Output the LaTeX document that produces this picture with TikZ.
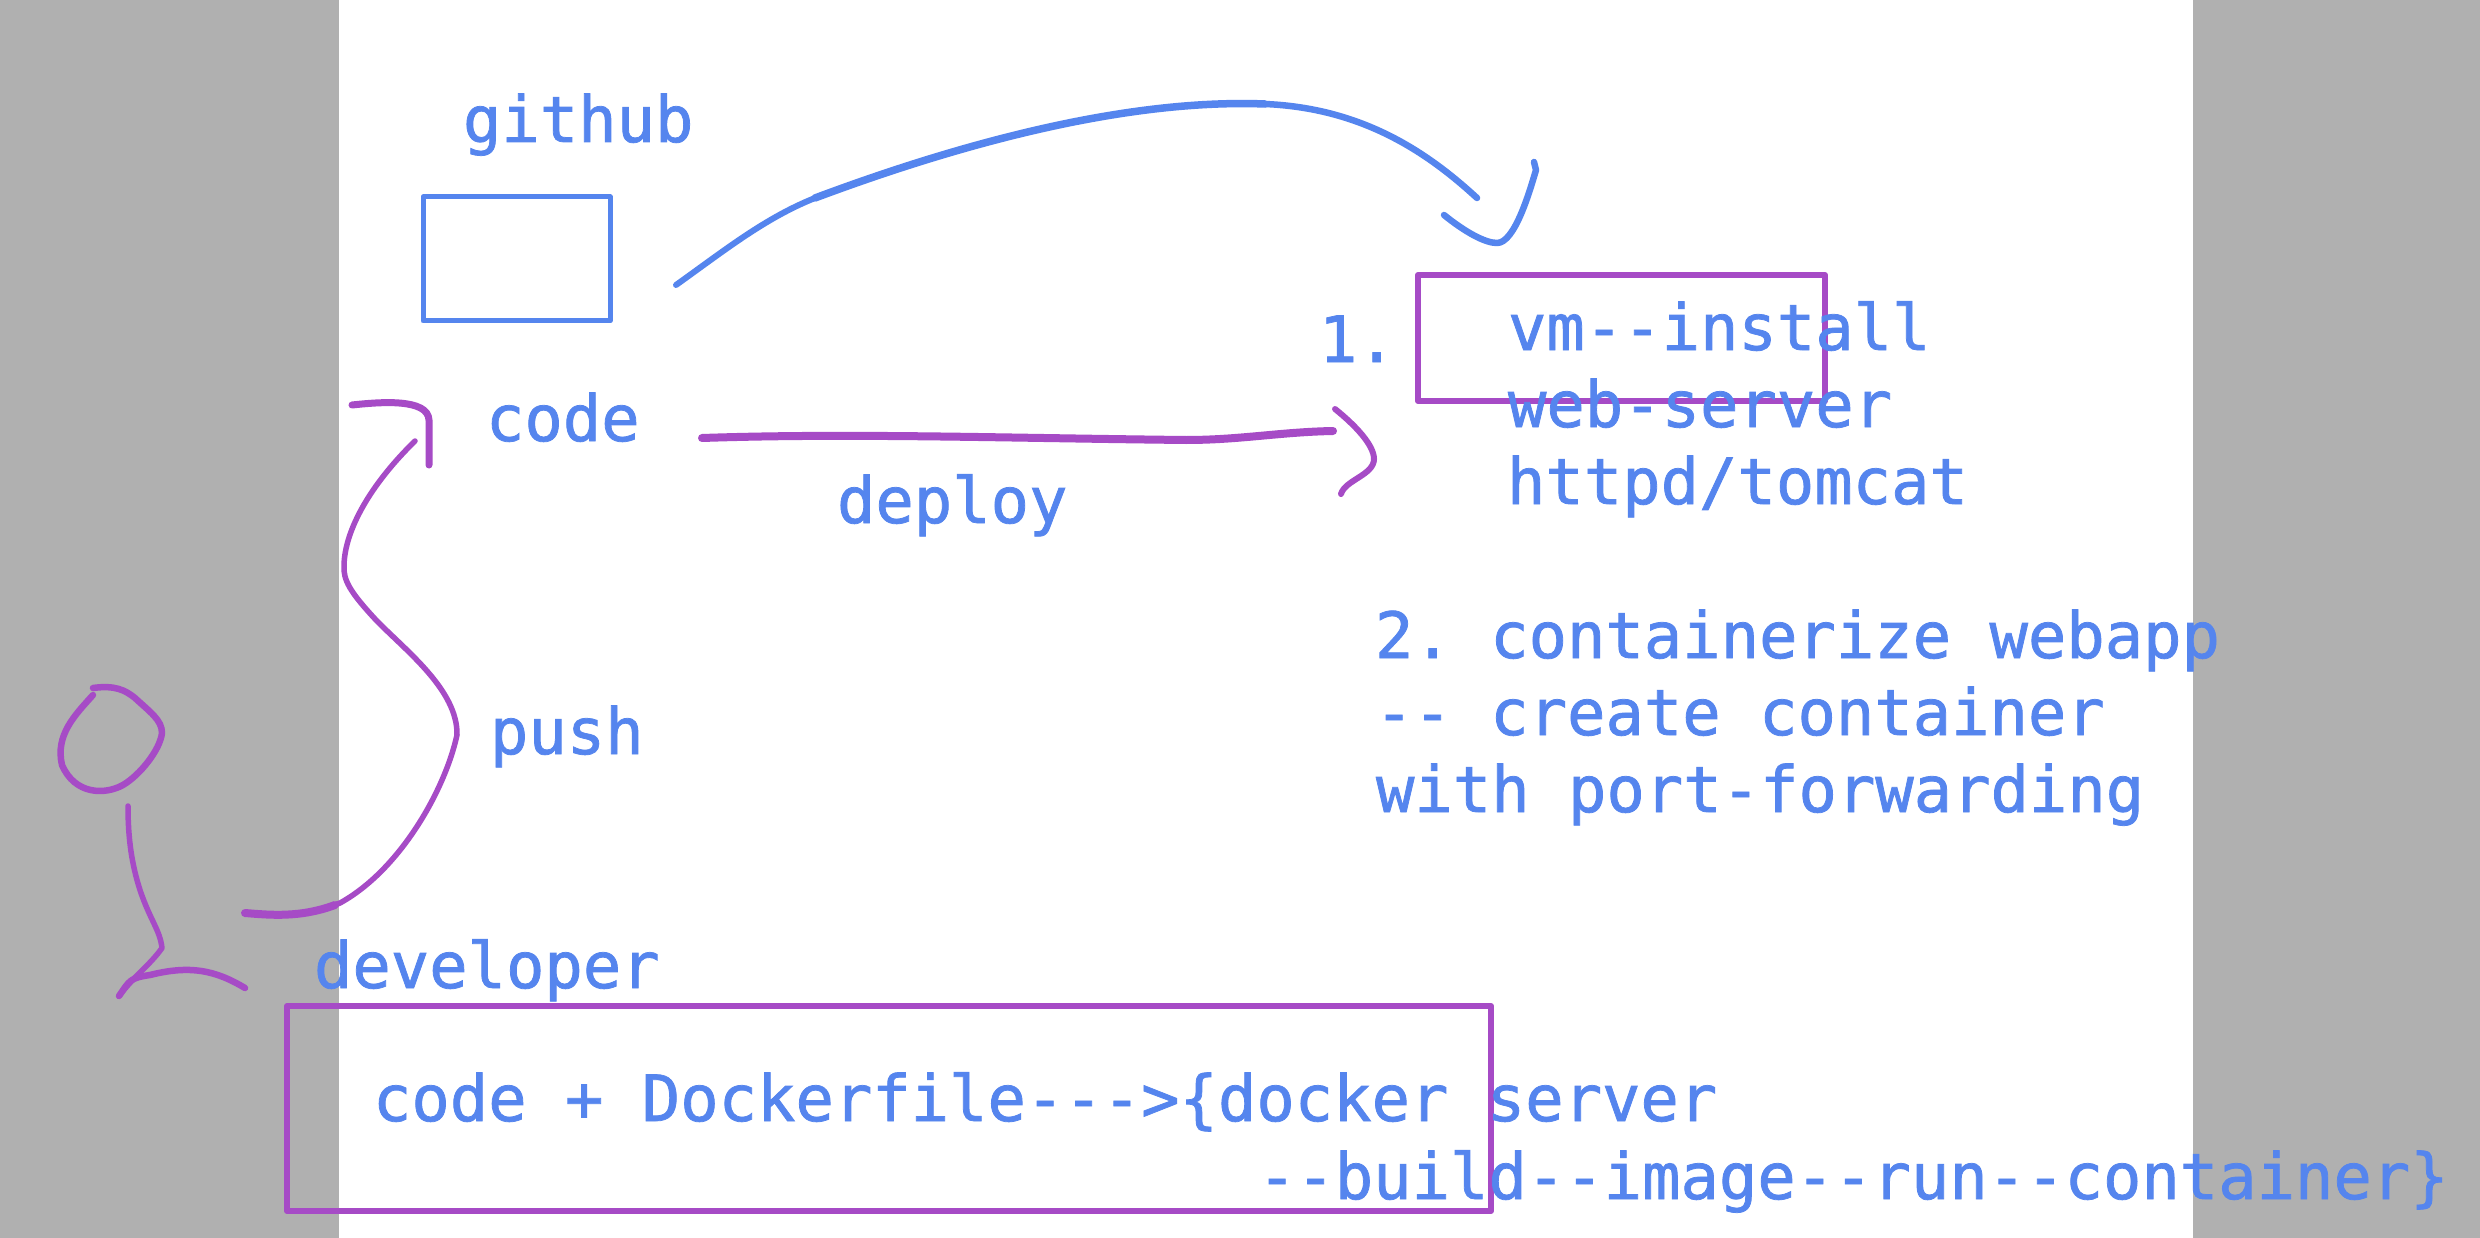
\documentclass[tikz,border=0pt]{standalone}
\usepackage{fontspec}
\setmonofont[FakeBold=1.2]{DejaVu Sans Mono}
\definecolor{inkblue}{HTML}{5585EE}
\definecolor{inkpurple}{HTML}{A64BC6}
\definecolor{sidegrey}{HTML}{B0B0B0}
\tikzset{
  label text/.style={anchor=base west,inner sep=0pt,outer sep=0pt,text=inkblue,font=\ttfamily\fontsize{63.8}{72}\selectfont},
  bluebox/.style={draw=inkblue,line width=5pt,line join=round},
  purplebox/.style={draw=inkpurple,line width=6pt,line join=round},
  bluepen/.style={draw=inkblue,line width=7pt,line cap=round,line join=round},
  purplepen/.style={draw=inkpurple,line width=7pt,line cap=round,line join=round},
}
\begin{document}
\begin{tikzpicture}[x=1pt,y=-1pt]
\useasboundingbox (0,0) rectangle (2480,1238);
\fill[white] (0,0) rectangle (2480,1238);
\fill[sidegrey] (0,0) rectangle (339,1238);
\fill[sidegrey] (2193,0) rectangle (2480,1238);
% boxes
\draw[bluebox] (423,197) rectangle (610,321);
\draw[purplebox] (1418,275) rectangle (1825,401);
\draw[purplebox] (287,1006) rectangle (1491,1211);
% text
\node[label text] (github) at (463,142) {github};
\node[label text] (code) at (486,441) {code};
\node[label text] (deploy) at (837,523) {deploy};
\node[label text] (one) at (1319,362) {1.};
\node[label text] (vm) at (1508,350) {vm-{}-install};
\node[label text] (web) at (1508,427) {web-server};
\node[label text] (httpd) at (1507,504) {httpd/tomcat};
\node[label text] (two) at (1375,658) {2. containerize webapp};
\node[label text] (create) at (1375,735) {-{}- create container};
\node[label text] (with) at (1376,812) {with port-forwarding};
\node[label text] (push) at (490,754) {push};
\node[label text] (dev) at (314,988) {developer};
\node[label text] (dock) at (373,1121) {code + Dockerfile-{}-{}->\{docker server};
\node[label text] (build) at (1258,1199) {-{}-build-{}-image-{}-run-{}-container\}};
% blue connector github -> vm
\coordinate (gh end) at (676,285);
\coordinate (vm end) at (1477,198);
\coordinate (arc a) at (815,198);
\coordinate (arc b) at (1265,104);
\draw[bluepen,line width=6pt] (gh end) .. controls (725,250) and (765,218) .. (arc a);
\draw[bluepen,line width=7.5pt] (arc a) .. controls (930,155) and (1110,98) .. (arc b);
\draw[bluepen,line width=6.5pt] (arc b) .. controls (1360,108) and (1425,150) .. (vm end);
\draw[bluepen,line width=6.5pt] (1444,215) .. controls (1465,232) and (1485,243) .. (1497,243)
  .. controls (1515,243) and (1530,190) .. (1536,170) -- (1534,162);
% purple connector code -> deploy target
\coordinate (dep start) at (702,438);
\coordinate (dep end) at (1333,431);
\draw[purplepen,line width=8pt] (dep start) .. controls (850,433) and (1000,438) .. (1186,440)
  .. controls (1240,440) and (1280,432) .. (dep end);
\draw[purplepen,line width=6pt] (1335,409) .. controls (1355,425) and (1374,445) .. (1374,459)
  .. controls (1374,475) and (1345,480) .. (1341,494);
% purple connector developer -> code
\coordinate (push start) at (245,913);
\coordinate (push end) at (415,441);
\draw[purplepen,line width=5.5pt] (push start) .. controls (270,915) and (300,918) .. (340,903)
  .. controls (400,870) and (445,790) .. (457,735)
  .. controls (458,690) and (405,650) .. (376,620)
  .. controls (350,592) and (343,580) .. (344,565)
  .. controls (345,530) and (370,485) .. (push end);
\draw[purplepen,line width=8pt] (push start) .. controls (270,915) and (300,918) .. (335,905);
\draw[purplepen] (352,405) .. controls (380,402) and (428,398) .. (429,420) -- (429,465);
% person
\draw[purplepen,line width=6.5pt] (93,688) .. controls (115,685) and (125,690) .. (135,698)
  .. controls (150,712) and (162,720) .. (162,733)
  .. controls (160,750) and (140,775) .. (123,785)
  .. controls (105,795) and (75,795) .. (62,765)
  .. controls (55,735) and (75,715) .. (93,695);
\draw[purplepen,line width=5.5pt] (128,806) .. controls (128,840) and (132,865) .. (140,890)
  .. controls (150,920) and (160,930) .. (162,948)
  .. controls (150,965) and (135,975) .. (119,996);
\draw[purplepen,line width=6.5pt] (119,996) .. controls (130,980) and (130,978) .. (150,975)
  .. controls (190,965) and (215,970) .. (245,988);
\end{tikzpicture}
\end{document}
